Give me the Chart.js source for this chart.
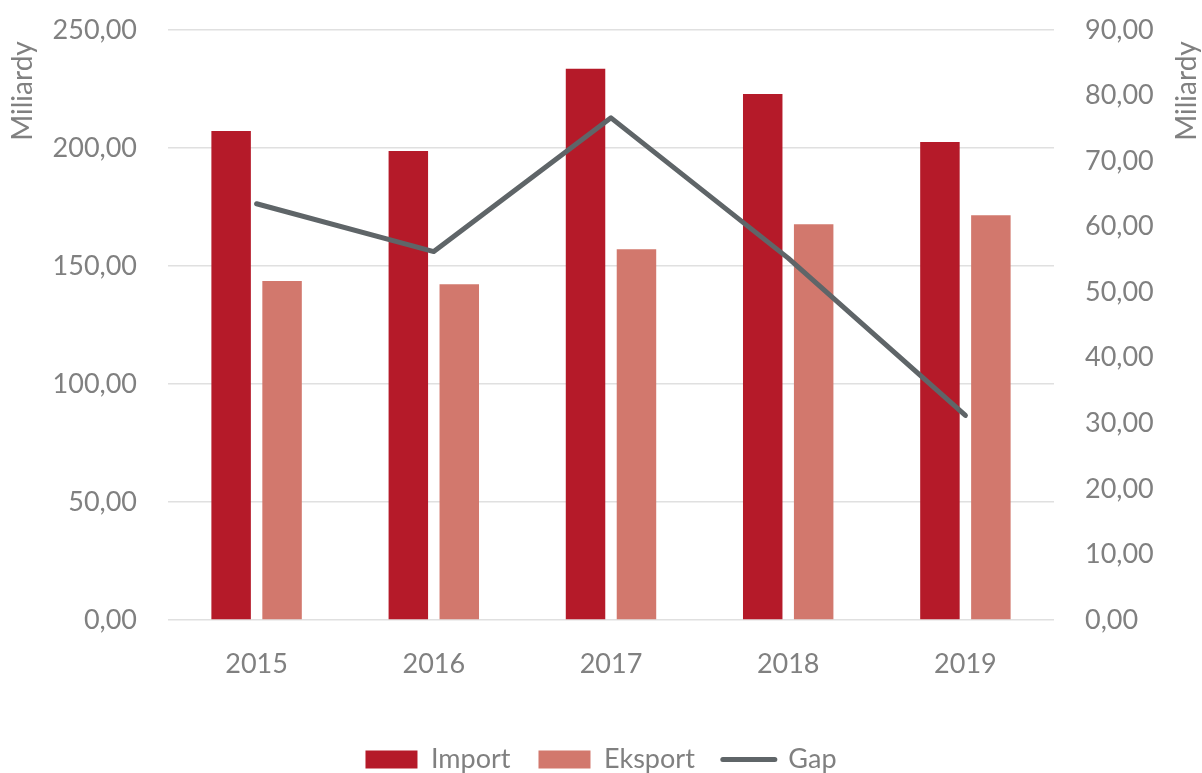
<!DOCTYPE html>
<html>
<head>
<meta charset="utf-8">
<script src="https://cdn.jsdelivr.net/npm/chart.js@4/dist/chart.umd.min.js"></script>
<style>
  html, body { margin: 0; padding: 0; background: #ffffff; }
  #c { display: block; }
</style>
</head>
<body>
<canvas id="c" width="1202" height="773"></canvas>
<script>
const categories = ['2015', '2016', '2017', '2018', '2019'];
const importValues = [207.2, 198.7, 233.6, 222.9, 202.5];
const eksportValues = [143.6, 142.3, 157.1, 167.7, 171.5];
const gapValues = [63.5, 56.2, 76.6, 55.2, 31.2];
const seriesNames = ['Import', 'Eksport', 'Gap'];
const axisTitle = 'Miliardy';

const TXT = '#808080';
const FONT = 'Lato, "Open Sans", sans-serif';
const fmt = v => Number(v).toFixed(2).replace('.', ',');

const titlePlugin = {
  id: 'axisTitles',
  afterDraw(chart) {
    const ctx = chart.ctx;
    ctx.save();
    ctx.fillStyle = TXT;
    ctx.font = '28px ' + FONT;
    ctx.textAlign = 'center';
    ctx.textBaseline = 'middle';
    [[23, 91], [1187, 91]].forEach(([x, y]) => {
      ctx.save();
      ctx.translate(x, y);
      ctx.rotate(-Math.PI / 2);
      ctx.fillText(axisTitle, 0, 0);
      ctx.restore();
    });
    ctx.restore();
  }
};

new Chart(document.getElementById('c'), {
  data: {
    labels: categories,
    datasets: [
      {
        type: 'bar', label: seriesNames[0], data: importValues,
        backgroundColor: '#B51A29', borderWidth: 0, yAxisID: 'y', order: 1,
        categoryPercentage: 0.575, barPercentage: 0.775
      },
      {
        type: 'bar', label: seriesNames[1], data: eksportValues,
        backgroundColor: '#D2786D', borderWidth: 0, yAxisID: 'y', order: 1,
        categoryPercentage: 0.575, barPercentage: 0.775
      },
      {
        type: 'line', label: seriesNames[2], data: gapValues,
        borderColor: '#5F6568', backgroundColor: '#5F6568', borderWidth: 5,
        borderCapStyle: 'round', borderJoinStyle: 'round',
        pointRadius: 0, tension: 0, yAxisID: 'y1', order: 0
      }
    ]
  },
  options: {
    responsive: false,
    animation: false,
    layout: { padding: { top: 30, bottom: 0, left: 0, right: 0 } },
    plugins: {
      tooltip: { enabled: false },
      legend: {
        position: 'bottom',
        maxHeight: 55,
        labels: {
          color: TXT,
          font: { family: FONT, size: 27 },
          usePointStyle: true,
          pointStyleWidth: 52,
          boxHeight: 18,
          padding: 28,
          sort: (a, b) => a.datasetIndex - b.datasetIndex,
          generateLabels: (chart) => {
            const items = Chart.defaults.plugins.legend.labels.generateLabels(chart);
            items.forEach(it => {
              const ds = chart.data.datasets[it.datasetIndex];
              if (ds.type === 'line') {
                it.pointStyle = 'line';
                it.lineWidth = 5;
                it.strokeStyle = ds.borderColor;
                it.lineCap = 'round';
              } else {
                it.pointStyle = 'rect';
                it.lineWidth = 0;
                it.fillStyle = ds.backgroundColor;
              }
              it.fontColor = TXT;
            });
            return items;
          }
        }
      }
    },
    scales: {
      x: {
        grid: { display: false, drawTicks: false },
        border: { display: false },
        ticks: { color: TXT, font: { family: FONT, size: 27 }, padding: 28, maxRotation: 0 },
        afterFit: s => { s.height = 98; }
      },
      y: {
        position: 'left', min: 0, max: 250,
        grid: { color: '#E0E0E0', lineWidth: 1.5, drawTicks: false },
        border: { display: false },
        ticks: { stepSize: 50, color: TXT, font: { family: FONT, size: 27 }, padding: 31, callback: fmt },
        afterFit: s => { s.width = 168; s.paddingTop = 0; s.paddingBottom = 0; }
      },
      y1: {
        position: 'right', min: 0, max: 90,
        grid: { display: false, drawTicks: false },
        border: { display: false },
        ticks: { stepSize: 10, color: TXT, font: { family: FONT, size: 27 }, padding: 31, callback: fmt },
        afterFit: s => { s.width = 148; s.paddingTop = 0; s.paddingBottom = 0; }
      }
    }
  },
  plugins: [titlePlugin]
});
</script>
</body>
</html>
